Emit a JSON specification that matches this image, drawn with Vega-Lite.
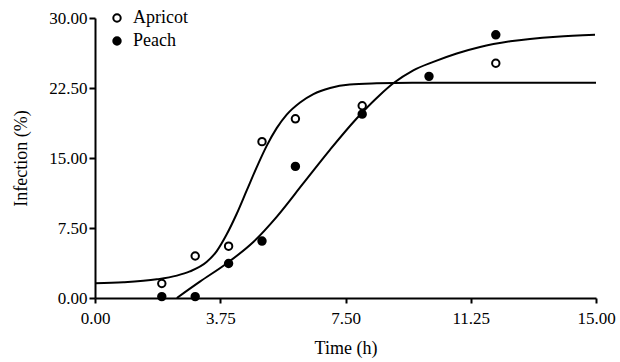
{
  "$schema": "https://vega.github.io/schema/vega-lite/v6.json",
  "width": 501,
  "height": 280,
  "autosize": {"type": "none"},
  "padding": {"left": 95, "top": 18, "right": 24, "bottom": 64},
  "background": "white",
  "config": {
    "font": "Liberation Serif",
    "view": {"stroke": null},
    "axis": {
      "grid": false,
      "domainColor": "black",
      "domainWidth": 2,
      "tickColor": "black",
      "tickWidth": 2,
      "labelColor": "black",
      "labelFlush": false,
      "titleFontWeight": "normal",
      "titleColor": "black"
    }
  },
  "datasets": {
    "points": [
      {"series": "Apricot", "time": 2, "infection": 1.55},
      {"series": "Apricot", "time": 3, "infection": 4.5},
      {"series": "Apricot", "time": 4, "infection": 5.55},
      {"series": "Apricot", "time": 5, "infection": 16.75},
      {"series": "Apricot", "time": 6, "infection": 19.2},
      {"series": "Apricot", "time": 8, "infection": 20.6},
      {"series": "Apricot", "time": 12, "infection": 25.15},
      {"series": "Peach", "time": 2, "infection": 0.15},
      {"series": "Peach", "time": 3, "infection": 0.15},
      {"series": "Peach", "time": 4, "infection": 3.7},
      {"series": "Peach", "time": 5, "infection": 6.1},
      {"series": "Peach", "time": 6, "infection": 14.1},
      {"series": "Peach", "time": 8, "infection": 19.7},
      {"series": "Peach", "time": 10, "infection": 23.75},
      {"series": "Peach", "time": 12, "infection": 28.2}
    ],
    "curves": [
      {"series": "Apricot", "time": 0, "infection": 1.57},
      {"series": "Apricot", "time": 0.85, "infection": 1.68},
      {"series": "Apricot", "time": 1.85, "infection": 2.0},
      {"series": "Apricot", "time": 2.45, "infection": 2.4},
      {"series": "Apricot", "time": 2.84, "infection": 2.85},
      {"series": "Apricot", "time": 3.34, "infection": 3.85},
      {"series": "Apricot", "time": 3.64, "infection": 5.0},
      {"series": "Apricot", "time": 3.94, "infection": 6.8},
      {"series": "Apricot", "time": 4.24, "infection": 9.0},
      {"series": "Apricot", "time": 4.54, "infection": 11.5},
      {"series": "Apricot", "time": 4.84, "infection": 14.0},
      {"series": "Apricot", "time": 5.14, "infection": 16.3},
      {"series": "Apricot", "time": 5.44, "infection": 18.2},
      {"series": "Apricot", "time": 5.74, "infection": 19.65},
      {"series": "Apricot", "time": 6.14, "infection": 20.95},
      {"series": "Apricot", "time": 6.54, "infection": 21.85},
      {"series": "Apricot", "time": 7.04, "infection": 22.5},
      {"series": "Apricot", "time": 7.63, "infection": 22.87},
      {"series": "Apricot", "time": 8.43, "infection": 23.0},
      {"series": "Apricot", "time": 9.5, "infection": 23.06},
      {"series": "Apricot", "time": 15, "infection": 23.07},
      {"series": "Peach", "time": 2.45, "infection": 0},
      {"series": "Peach", "time": 3.14, "infection": 1.75},
      {"series": "Peach", "time": 3.94, "infection": 3.7},
      {"series": "Peach", "time": 4.74, "infection": 6.0},
      {"series": "Peach", "time": 5.44, "infection": 8.7},
      {"series": "Peach", "time": 6.24, "infection": 12.3},
      {"series": "Peach", "time": 7.04, "infection": 15.9},
      {"series": "Peach", "time": 7.8, "infection": 19.1},
      {"series": "Peach", "time": 8.53, "infection": 21.75},
      {"series": "Peach", "time": 8.93, "infection": 23.0},
      {"series": "Peach", "time": 9.53, "infection": 24.4},
      {"series": "Peach", "time": 10.13, "infection": 25.3},
      {"series": "Peach", "time": 10.83, "infection": 26.2},
      {"series": "Peach", "time": 11.53, "infection": 26.9},
      {"series": "Peach", "time": 12.43, "infection": 27.5},
      {"series": "Peach", "time": 13.82, "infection": 28.0},
      {"series": "Peach", "time": 14.97, "infection": 28.2}
    ]
  },
  "layer": [
    {
      "data": {"name": "curves"},
      "mark": {"type": "line", "color": "black", "strokeWidth": 2, "interpolate": "monotone", "clip": true},
      "encoding": {
        "x": {"field": "time", "type": "quantitative", "scale": {"domain": [0, 15], "nice": false},
          "axis": {"values": [0, 3.75, 7.5, 11.25, 15], "format": ".2f", "title": "Time (h)", "tickSize": 5, "labelPadding": 7, "titlePadding": 13,
            "labelFont": "Liberation Serif", "labelFontSize": 17, "titleFont": "Liberation Serif", "titleFontSize": 18}},
        "y": {"field": "infection", "type": "quantitative", "scale": {"domain": [0, 30], "nice": false},
          "axis": {"values": [0, 7.5, 15, 22.5, 30], "format": ".2f", "title": "Infection (%)", "tickSize": 6, "labelPadding": 2, "titlePadding": 18,
            "labelFont": "Liberation Serif", "labelFontSize": 17, "titleFont": "Liberation Serif", "titleFontSize": 18}},
        "detail": {"field": "series"}
      }
    },
    {
      "data": {"name": "points"},
      "mark": {"type": "point", "shape": "circle", "stroke": "black", "strokeWidth": 2, "opacity": 1, "size": 55, "filled": false},
      "encoding": {
        "x": {"field": "time", "type": "quantitative"},
        "y": {"field": "infection", "type": "quantitative"},
        "fill": {"field": "series", "type": "nominal",
          "scale": {"domain": ["Apricot", "Peach"], "range": ["white", "black"]},
          "legend": {"title": null, "orient": "none", "legendX": 13, "legendY": -9, "symbolStrokeColor": "black", "symbolStrokeWidth": 2, "symbolSize": 55, "symbolType": "circle", "rowPadding": 5, "labelOffset": 7, "padding": 0,
            "labelFont": "Liberation Serif", "labelFontSize": 18, "labelColor": "black"}}
      }
    }
  ]
}
